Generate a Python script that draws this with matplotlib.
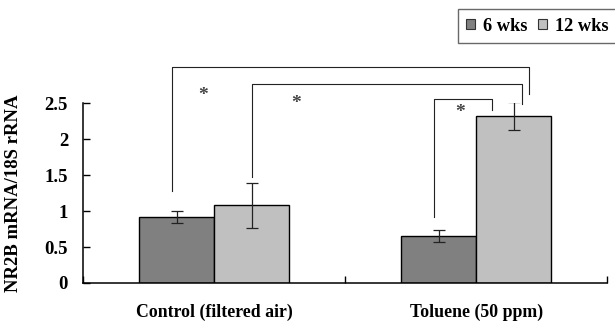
import matplotlib
matplotlib.use("Agg")
import matplotlib.pyplot as plt
from matplotlib.patches import Patch

plt.rcParams['font.family'] = ['Liberation Serif', 'DejaVu Serif']
plt.rcParams['font.weight'] = 'bold'

groups = ['Control (filtered air)', 'Toluene (50 ppm)']
series = ['6 wks', '12 wks']
wk6 = [0.92, 0.65]
wk6_err = [0.08, 0.08]
wk12 = [1.08, 2.32]
wk12_err = [0.31, 0.20]
yticks = [0, 0.5, 1, 1.5, 2, 2.5]
ytick_labels = ['0', '0.5', '1', '1.5', '2', '2.5']

# significance brackets: (x left, x right, y top, left drop-to, right drop-to)
brackets = [
    (-0.162, 1.202, 3.00, 1.28, 2.63),
    (0.143, 1.175, 2.76, 1.47, 2.49),
    (0.839, 1.061, 2.56, 0.91, 2.40),
]
stars = [(-0.043, 2.60), (0.312, 2.50), (0.939, 2.37)]

fig = plt.figure(figsize=(6.15, 3.21), dpi=100)
ax = fig.add_axes([0.1355, 0.1184, 0.8515, 0.5606])

w = 0.287
x = [0, 1]
ax.bar([i - w / 2 for i in x], wk6, w, color='#808080', edgecolor='black',
       linewidth=1.0, label=series[0], zorder=2)
ax.bar([i + w / 2 for i in x], wk12, w, color='#c0c0c0', edgecolor='black',
       linewidth=1.0, label=series[1], zorder=2)
ax.errorbar([i - w / 2 for i in x], wk6, yerr=wk6_err, fmt='none',
            ecolor='#222222', elinewidth=0.9, capsize=4, capthick=0.9, zorder=3)
ax.errorbar([i + w / 2 for i in x], wk12, yerr=wk12_err, fmt='none',
            ecolor='#222222', elinewidth=0.9, capsize=4, capthick=0.9, zorder=3)

for xl, xr, yt, yl, yr in brackets:
    ax.plot([xl, xl, xr, xr], [yl, yt, yt, yr], color='#222222', lw=0.8,
            clip_on=False, zorder=4)
for sx, sy in stars:
    ax.text(sx, sy, '*', ha='center', va='center', fontsize=14,
            color='#444444', clip_on=False)

ax.set_xlim(-0.5, 1.5)
ax.set_ylim(0, 2.5)
ax.set_yticks(yticks)
ax.set_yticklabels(ytick_labels)
ax.set_xticks([-0.5, 0.5, 1.5])
ax.set_xticklabels([])
ax.set_xticks(x, minor=True)
ax.set_xticklabels(groups, minor=True)
ax.tick_params(axis='x', which='major', direction='in', length=5, width=1)
ax.tick_params(axis='x', which='minor', length=0, pad=15, labelsize=12.8)
ax.tick_params(axis='y', direction='in', length=5, width=1, pad=11,
               labelsize=13.5)
for side in ['top', 'right']:
    ax.spines[side].set_visible(False)
for side in ['left', 'bottom']:
    ax.spines[side].set_linewidth(1.1)

fig.text(13.5 / 615, 0.399, 'NR2B mRNA/18S rRNA', rotation=90,
         ha='center', va='center', fontsize=13.5, fontweight='bold')

handles = [Patch(facecolor='#808080', edgecolor='#333333', linewidth=0.8),
           Patch(facecolor='#c0c0c0', edgecolor='#333333', linewidth=0.8)]
leg = fig.legend(handles, series, loc='upper left',
                 bbox_to_anchor=(458 / 615, 1 - 9.3 / 321), ncol=2,
                 fontsize=13.2, frameon=True, fancybox=False,
                 handlelength=0.5, handleheight=0.5, handletextpad=0.4,
                 columnspacing=0.6, borderpad=0.45, borderaxespad=0)
leg.get_frame().set_edgecolor('#444444')
leg.get_frame().set_linewidth(1.0)

fig.savefig('out.png', dpi=100)
